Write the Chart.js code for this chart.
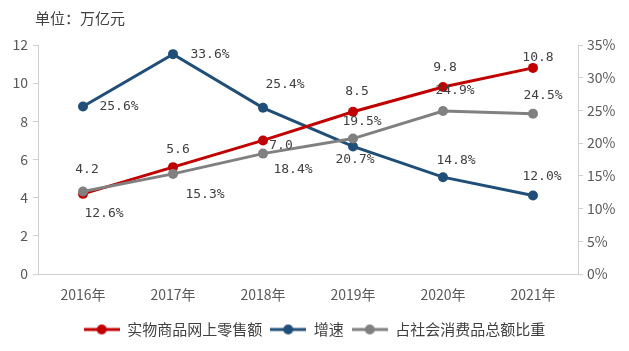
<!DOCTYPE html>
<html>
<head>
<meta charset="utf-8">
<script src="https://cdn.jsdelivr.net/npm/chart.js@4.4.1/dist/chart.umd.min.js"></script>
<style>
  html, body { margin: 0; padding: 0; background: #ffffff; }
  #wrap { width: 629px; height: 351px; position: relative; }
</style>
</head>
<body>
<div id="wrap"><canvas id="c" width="629" height="351"></canvas></div>
<script>
// ---- data ----
const categories = ['2016年', '2017年', '2018年', '2019年', '2020年', '2021年'];
const onlineSales = [4.2, 5.6, 7.0, 8.5, 9.8, 10.8];          // 万亿元
const growthRate = [25.6, 33.6, 25.4, 19.5, 14.8, 12.0];       // %
const shareOfTotal = [12.6, 15.3, 18.4, 20.7, 24.9, 24.5];     // %
const seriesNames = ['实物商品网上零售额', '增速', '占社会消费品总额比重'];
const unitTitle = '单位：万亿元';

// ---- styling / label placement (not data) ----
const colors = ['#C00000', '#1F4E79', '#808080'];
const labelOffsets = [
  [[4, -24], [5, -18], [18, 5], [4, -20], [2, -19], [5, -10]],
  [[36, 0], [37, 0], [22, -23], [9, -25], [13, -17], [9, -19]],
  [[21, 22], [32, 21], [30, 16], [2, 21], [12, -20], [10, -18]]
];
const labelFormat = [v => v.toFixed(1), v => v.toFixed(1) + '%', v => v.toFixed(1) + '%'];

function legendIcon(color) {
  const c = document.createElement('canvas');
  c.width = 36; c.height = 12;
  const x = c.getContext('2d');
  x.strokeStyle = color; x.lineWidth = 3;
  x.beginPath(); x.moveTo(0, 6); x.lineTo(36, 6); x.stroke();
  x.fillStyle = color;
  x.beginPath(); x.arc(18, 6, 5, 0, Math.PI * 2); x.fill();
  return c;
}

const labelPlugin = {
  id: 'valLabels',
  afterDatasetsDraw(chart) {
    const ctx = chart.ctx;
    ctx.save();
    ctx.font = '13px "DejaVu Sans Mono", monospace';
    ctx.fillStyle = '#404040';
    ctx.textAlign = 'center';
    ctx.textBaseline = 'middle';
    chart.data.datasets.forEach((ds, di) => {
      const meta = chart.getDatasetMeta(di);
      meta.data.forEach((pt, i) => {
        const off = labelOffsets[di][i];
        ctx.fillText(labelFormat[di](ds.data[i]), pt.x + off[0], pt.y + off[1]);
      });
    });
    ctx.restore();
  }
};

const titlePlugin = {
  id: 'unitTitle',
  afterDraw(chart) {
    const ctx = chart.ctx;
    ctx.save();
    ctx.font = '15px "Noto Sans CJK SC", sans-serif';
    ctx.fillStyle = '#404040';
    ctx.textAlign = 'left';
    ctx.textBaseline = 'middle';
    ctx.fillText(unitTitle, 35, 18);
    ctx.restore();
  }
};

const tickFont = { family: '"Noto Sans CJK SC", "Noto Sans", sans-serif', size: 14 };
const axisColor = '#d0d0d0';

new Chart(document.getElementById('c'), {
  type: 'line',
  data: {
    labels: categories,
    datasets: [
      { label: seriesNames[0], data: onlineSales, yAxisID: 'y', order: 1 },
      { label: seriesNames[1], data: growthRate, yAxisID: 'y1', order: 2 },
      { label: seriesNames[2], data: shareOfTotal, yAxisID: 'y1', order: 0 }
    ].map((d, i) => Object.assign(d, {
      borderColor: colors[i], backgroundColor: colors[i],
      pointBackgroundColor: colors[i], pointBorderColor: colors[i],
      borderWidth: 3, pointRadius: 5, pointBorderWidth: 0, tension: 0,
      pointStyle: 'circle', fill: false
    }))
  },
  options: {
    responsive: false,
    animation: false,
    layout: { padding: { top: 45, left: 0, right: 0, bottom: 4 } },
    plugins: {
      tooltip: { enabled: false },
      legend: {
        position: 'bottom',
        labels: {
          usePointStyle: true,
          pointStyleWidth: 36,
          padding: 8,
          color: '#404040',
          font: { family: '"Noto Sans CJK SC", sans-serif', size: 15 },
          sort: (a, b) => a.datasetIndex - b.datasetIndex,
          generateLabels(chart) {
            return chart.data.datasets.map((ds, i) => ({
              text: ds.label, datasetIndex: i,
              pointStyle: legendIcon(colors[i]),
              fillStyle: colors[i], strokeStyle: colors[i], lineWidth: 0,
              fontColor: '#404040', hidden: false
            }));
          }
        }
      }
    },
    scales: {
      x: {
        offset: true,
        grid: { display: false },
        border: { display: true, color: axisColor, width: 1 },
        ticks: { color: '#595959', font: tickFont, padding: 4, maxRotation: 0 },
        afterFit(s) { s.height = 40; }
      },
      y: {
        position: 'left',
        min: 0, max: 12,
        grid: { drawOnChartArea: false, drawTicks: true, tickLength: 5, color: axisColor },
        border: { display: true, color: axisColor, width: 1 },
        ticks: { stepSize: 2, color: '#595959', font: tickFont, padding: 5 },
        afterFit(s) { s.width = 38; }
      },
      y1: {
        position: 'right',
        min: 0, max: 35,
        grid: { drawOnChartArea: false, drawTicks: true, tickLength: 5, color: axisColor },
        border: { display: true, color: axisColor, width: 1 },
        ticks: { stepSize: 5, color: '#595959', font: tickFont, padding: 4, callback: v => v + '%' },
        afterFit(s) { s.width = 51; }
      }
    }
  },
  plugins: [labelPlugin, titlePlugin]
});
</script>
</body>
</html>
